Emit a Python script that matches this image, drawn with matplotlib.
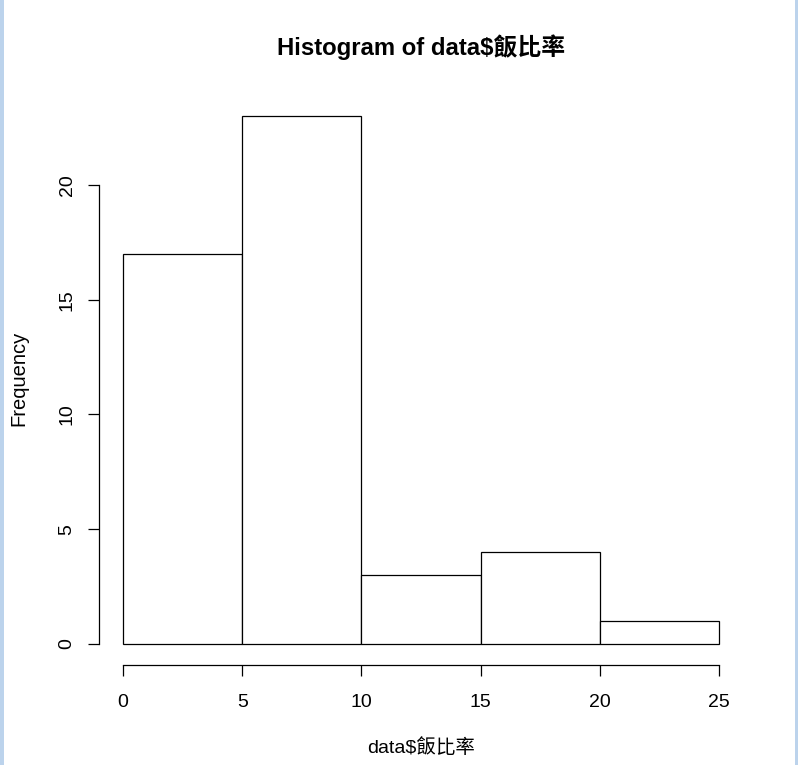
import matplotlib
matplotlib.use("Agg")
import matplotlib.pyplot as plt
from matplotlib.patches import Rectangle

# Data
bin_edges = [0, 5, 10, 15, 20, 25]
counts = [17, 23, 3, 4, 1]
x_ticks = [0, 5, 10, 15, 20, 25]
y_ticks = [0, 5, 10, 15, 20]
title = "Histogram of data$飯比率"
xlabel = "data$飯比率"
ylabel = "Frequency"

fam = ["Liberation Sans", "Noto Sans CJK TC", "DejaVu Sans"]
plt.rcParams["font.family"] = fam

W, H = 798, 765
fig = plt.figure(figsize=(W / 100, H / 100), dpi=100)
fig.patch.set_facecolor("white")

x0, x1 = 99.2, 742.8
y_top, y_bot = 95.0, 665.1
ax = fig.add_axes([x0 / W, (H - y_bot) / H, (x1 - x0) / W, (y_bot - y_top) / H])

lefts = bin_edges[:-1]
widths = [b - a for a, b in zip(bin_edges[:-1], bin_edges[1:])]
ax.bar(lefts, counts, width=widths, align="edge", facecolor="white",
       edgecolor="black", linewidth=0.9)

xr = bin_edges[-1] - bin_edges[0]
ax.set_xlim(bin_edges[0] - 0.04 * xr, bin_edges[-1] + 0.04 * xr)
ymax = max(counts)
ax.set_ylim(-0.04 * ymax, ymax * 1.04)

for s in ("top", "right"):
    ax.spines[s].set_visible(False)
ax.spines["left"].set_bounds(y_ticks[0], y_ticks[-1])
ax.spines["bottom"].set_bounds(x_ticks[0], x_ticks[-1])
for s in ("left", "bottom"):
    ax.spines[s].set_linewidth(0.9)

ax.set_xticks(x_ticks)
ax.set_yticks(y_ticks)
ax.tick_params(axis="both", length=8, width=0.9, labelsize=14, color="black")
ax.tick_params(axis="x", pad=13)
ax.tick_params(axis="y", pad=9)
for lab in ax.get_yticklabels():
    lab.set_rotation(90)
    lab.set_verticalalignment("center")

ax.set_facecolor("white")

fig.text((x0 + x1) / 2 / W, 1 - 47 / H, title, ha="center", va="center",
         fontsize=17.2, fontweight="bold", family=fam)
fig.text((x0 + x1) / 2 / W, 1 - 748 / H, xlabel, ha="center", va="center",
         fontsize=14, family=fam)
fig.text(19 / W, 1 - 378 / H, ylabel, ha="center", va="center",
         fontsize=14.5, rotation=90, family=fam)

# light blue window frame at left/right edges
border = "#bcd3ec"
fig.patches.append(Rectangle((0, 0), 3.5 / W, 1, transform=fig.transFigure,
                             facecolor=border, edgecolor="none"))
fig.patches.append(Rectangle((1 - 3.5 / W, 0), 3.5 / W, 1, transform=fig.transFigure,
                             facecolor=border, edgecolor="none"))

fig.savefig("out.png", dpi=100, facecolor="white")
